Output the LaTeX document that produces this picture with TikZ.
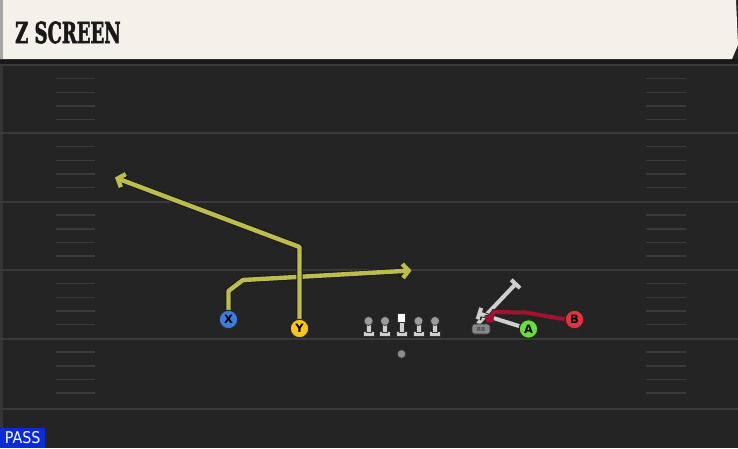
\documentclass[tikz,border=0pt]{standalone}
\usepackage{fontspec}
\usepackage{graphicx}
\usetikzlibrary{arrows.meta}
\newfontfamily\titlefont{DejaVu Serif}[UprightFont=* Bold,FakeBold=2.5]
\newfontfamily\labelfont{DejaVu Sans}
\definecolor{fieldbg}{HTML}{242424}
\definecolor{headerbg}{HTML}{F4F1EA}
\definecolor{yardline}{HTML}{3A3A3A}
\definecolor{hashline}{HTML}{3A3A3A}
\definecolor{routeyellow}{HTML}{BDBD4F}
\definecolor{xblue}{HTML}{3C7DDB}
\definecolor{yyellow}{HTML}{F7C51E}
\definecolor{agreen}{HTML}{6BDC3C}
\definecolor{bred}{HTML}{E0343F}
\definecolor{redroute}{HTML}{A3122E}
\definecolor{blockgrey}{HTML}{CFCFCF}
\definecolor{passblue}{HTML}{0B2BD9}
\pgfdeclarelayer{field}
\pgfdeclarelayer{routes}
\pgfsetlayers{field,routes,main}

\begin{document}
\begin{tikzpicture}[x=1pt,y=-1pt,
    player/.style={circle,draw=black!85,line width=1pt,minimum size=18.5pt,inner sep=0pt,
                   font=\labelfont\bfseries\fontsize{11.5}{11.5}\selectfont},
    route/.style={line width=4.4pt,draw=routeyellow,line join=round,
                  -{Straight Barb[length=6pt,width=14pt]},
                  preaction={draw=black!90,line width=6.2pt}},
    redpath/.style={line width=4pt,draw=redroute,line join=round,
                    -{Straight Barb[length=3pt,width=8pt]},
                    preaction={draw=black!85,line width=5.6pt}},
    block/.style={line width=4pt,draw=blockgrey,-{Bar[width=12pt]},
                  preaction={draw=black!85,line width=5.6pt}},
    olhead/.style={circle,fill=blockgrey!75!black,draw=black!80,line width=0.7pt,minimum size=9pt,inner sep=0pt},
    olbody/.style={fill=blockgrey,draw=black!80,line width=0.7pt}]
\useasboundingbox (0,0) rectangle (738,448);
\begin{pgfonlayer}{field}
\fill[fieldbg] (0,0) rectangle (738,448);
\fill[yardline!80!fieldbg] (0,59) rectangle (2.5,428);
\fill[black!90] (0,59) rectangle (738,64);
\foreach \y in {65,133,201.5,270,338.5,408.5}
    \draw[yardline,line width=2pt] (0,\y) -- (738,\y);
\foreach \y in {65,133,201.5,270,338.5}
    \foreach \k in {1,...,4} {
        \draw[hashline,line width=1.6pt] (56,\y+\k*13.65) -- (95,\y+\k*13.65);
        \draw[hashline,line width=1.6pt] (646,\y+\k*13.65) -- (686,\y+\k*13.65);
    }
\fill[headerbg] (0,0) -- (736,0) -- (738,45) -- (732,59) -- (0,59) -- cycle;
\fill[black!35] (0,0) rectangle (3,59);
\end{pgfonlayer}
\node[anchor=west,inner sep=0pt,text=black!90] (title) at (15,32.5)
    {\resizebox{105.5pt}{21.5pt}{\titlefont Z SCREEN}};

\coordinate (xbend) at (228.5,291);
\coordinate (xend) at (411.5,270.5);
\coordinate (ybend) at (299.5,247);
\coordinate (yend) at (115,177.5);
\coordinate (ablock) at (477.5,313);
\coordinate (rbblock) at (517,282.5);
\coordinate (bend) at (486.5,322.5);

\node[player,fill=xblue] (X) at (228.5,319.5) {X};
\node[player,fill=yyellow] (Y) at (299.5,328.5) {Y};
\node[player,fill=agreen] (A) at (528.5,329) {A};
\node[player,fill=bred] (B) at (574.5,319.5) {B};
\node[rectangle,rounded corners=2.5pt,fill=blockgrey!65!black,draw=black!80,line width=0.7pt,
      minimum width=18pt,minimum height=10pt,inner sep=0pt,
      font=\labelfont\bfseries\fontsize{5.5}{5.5}\selectfont,text=black!70] (RB) at (481,329) {RB};

\begin{pgfonlayer}{routes}
\draw[route] (X) -- (xbend) -- (243,280) -- (xend);
\draw[route] (Y) -- (ybend) -- (yend);
\draw[block] (RB.120) -- (rbblock);
\draw[block] (A) -- (ablock);
\draw[redpath] (B) -- (560,318.5) -- (540,315) -- (525,312.5) -- (494,312) -- (bend);
\end{pgfonlayer}

\foreach \x/\n in {368.5/lt,385/lg,418.5/rg,435/rt} {
    \filldraw[olbody] (\x-5.5,331.5) rectangle (\x+5.5,336.5);
    \filldraw[olbody] (\x-2.5,322) rectangle (\x+2.5,332);
    \node[olhead] (\n) at (\x,321) {};
}
\filldraw[olbody] (396,331.5) rectangle (407,336.5);
\filldraw[olbody] (399,321) rectangle (404,332);
\node[rectangle,fill=white,draw=black!80,line width=0.7pt,minimum size=8.5pt,inner sep=0pt] (C) at (401.5,318) {};
\node[circle,fill=black!45,draw=black!80,line width=0.7pt,minimum size=8.5pt,inner sep=0pt] (QB) at (401.5,354) {};

\node[anchor=south west,fill=passblue,minimum width=45pt,minimum height=20pt,inner sep=0pt,text=white] (pass) at (0,448)
    {\resizebox{35.5pt}{12pt}{\labelfont PASS}};
\end{tikzpicture}
\end{document}
